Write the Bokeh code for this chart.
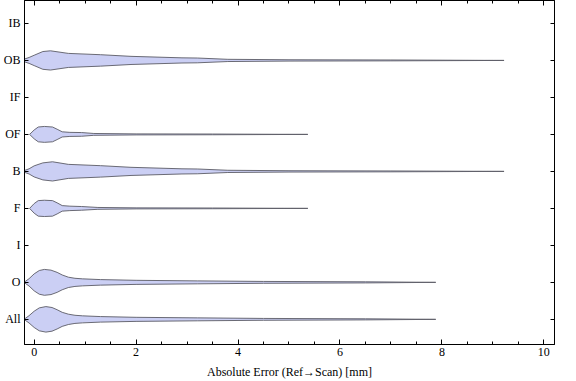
from bokeh.plotting import figure
from bokeh.models import Range1d, LinearAxis, FixedTicker, SingleIntervalTicker
from bokeh.embed import file_html
from bokeh.resources import INLINE

# categories bottom -> top
categories = ["All", "O", "I", "F", "B", "OF", "IF", "OB", "IB"]
x_ticks = [0, 2, 4, 6, 8, 10]

# violin profiles: error value [mm] and half-width (density, in row units)
All_x = [-0.2, -0.1, 0.0, 0.1, 0.23, 0.35, 0.45, 0.55, 0.67, 0.8, 0.95, 1.3, 2.0, 3.2, 4.5, 6.5, 7.88]
All_w = [0.0, 0.1, 0.22, 0.31, 0.345, 0.32, 0.26, 0.19, 0.14, 0.11, 0.095, 0.075, 0.055, 0.04, 0.025, 0.015, 0.0]
O_x = [-0.2, -0.1, 0.0, 0.1, 0.2, 0.33, 0.45, 0.55, 0.67, 0.8, 0.95, 1.3, 2.0, 3.2, 4.5, 6.5, 7.88]
O_w = [0.0, 0.1, 0.23, 0.32, 0.35, 0.33, 0.27, 0.2, 0.14, 0.11, 0.095, 0.075, 0.055, 0.04, 0.025, 0.015, 0.0]
I_x, I_w = [], []
F_x = [-0.09, 0.0, 0.08, 0.2, 0.36, 0.45, 0.55, 0.7, 0.93, 1.25, 2.0, 3.5, 5.37]
F_w = [0.0, 0.13, 0.21, 0.22, 0.21, 0.15, 0.075, 0.06, 0.05, 0.025, 0.014, 0.01, 0.0]
B_x = [-0.24, -0.1, 0.0, 0.17, 0.36, 0.67, 1.3, 1.9, 2.9, 3.2, 3.8, 5.0, 7.0, 9.22]
B_w = [0.0, 0.07, 0.15, 0.23, 0.26, 0.19, 0.155, 0.11, 0.07, 0.065, 0.03, 0.018, 0.012, 0.0]
OF_x = [-0.09, 0.0, 0.08, 0.2, 0.36, 0.45, 0.55, 0.7, 0.93, 1.17, 2.0, 3.5, 5.37]
OF_w = [0.0, 0.12, 0.2, 0.215, 0.2, 0.14, 0.07, 0.055, 0.05, 0.025, 0.014, 0.01, 0.0]
IF_x, IF_w = [], []
OB_x = [-0.27, -0.1, 0.0, 0.17, 0.32, 0.67, 1.3, 1.9, 2.9, 3.2, 3.8, 5.0, 7.0, 9.22]
OB_w = [0.0, 0.08, 0.14, 0.24, 0.26, 0.19, 0.155, 0.11, 0.07, 0.065, 0.03, 0.018, 0.012, 0.0]
IB_x, IB_w = [], []

profiles = [(All_x, All_w), (O_x, O_w), (I_x, I_w), (F_x, F_w), (B_x, B_w),
            (OF_x, OF_w), (IF_x, IF_w), (OB_x, OB_w), (IB_x, IB_w)]

FONT = "Liberation Serif"

p = figure(width=560, height=381, output_backend="svg", toolbar_location=None,
           x_range=Range1d(-0.19, 10.21), y_range=Range1d(0.32, 9.62),
           min_border_left=0, min_border_right=6, min_border_top=0, min_border_bottom=0)
p.grid.visible = False
p.outline_line_color = "black"
p.background_fill_color = "white"

fill = "#cbcff4"
edge = "#5c5c66"
for i, (xs, ws) in enumerate(profiles):
    if not xs:
        continue
    pos = i + 1
    px = list(xs) + list(xs[::-1])
    py = [pos + w for w in ws] + [pos - w for w in ws[::-1]]
    p.patch(px, py, fill_color=fill, line_color=edge, line_width=1, line_alpha=0.9)

# bottom axis
xa = p.xaxis[0]
xa.ticker = SingleIntervalTicker(interval=2, num_minor_ticks=4)
xa.axis_label = "Absolute Error (Ref\u2192Scan) [mm]"
xa.axis_label_text_font = FONT
xa.axis_label_text_font_size = "12px"
xa.axis_label_text_font_style = "normal"
xa.axis_label_text_color = "black"
xa.axis_label_standoff = 6
xa.major_label_text_font = FONT
xa.major_label_text_font_size = "12px"
xa.major_label_text_color = "black"
xa.major_label_standoff = 3
xa.major_tick_in = 5
xa.major_tick_out = 0
xa.minor_tick_in = 3
xa.minor_tick_out = 0
xa.axis_line_color = "black"

# left axis
ya = p.yaxis[0]
ya.ticker = FixedTicker(ticks=list(range(1, len(categories) + 1)))
ya.major_label_overrides = {i + 1: c for i, c in enumerate(categories)}
ya.major_label_text_font = FONT
ya.major_label_text_font_size = "12px"
ya.major_label_text_color = "black"
ya.major_label_standoff = 4
ya.major_tick_in = 4
ya.major_tick_out = 0
ya.minor_tick_line_color = None
ya.axis_line_color = "black"

# top axis (ticks only)
top = LinearAxis(ticker=SingleIntervalTicker(interval=2, num_minor_ticks=4),
                 major_label_overrides={t: "" for t in x_ticks},
                 major_label_standoff=0,
                 major_tick_in=5, major_tick_out=0, minor_tick_in=3, minor_tick_out=0,
                 axis_line_color="black")
p.add_layout(top, "above")

# right axis (ticks only)
right = LinearAxis(ticker=FixedTicker(ticks=list(range(1, len(categories) + 1))),
                   major_label_overrides={i + 1: "" for i in range(len(categories))},
                   major_label_standoff=0,
                   major_tick_in=4, major_tick_out=0, minor_tick_line_color=None,
                   axis_line_color="black")
p.add_layout(right, "right")

open("out.html", "w").write(file_html(p, INLINE))
